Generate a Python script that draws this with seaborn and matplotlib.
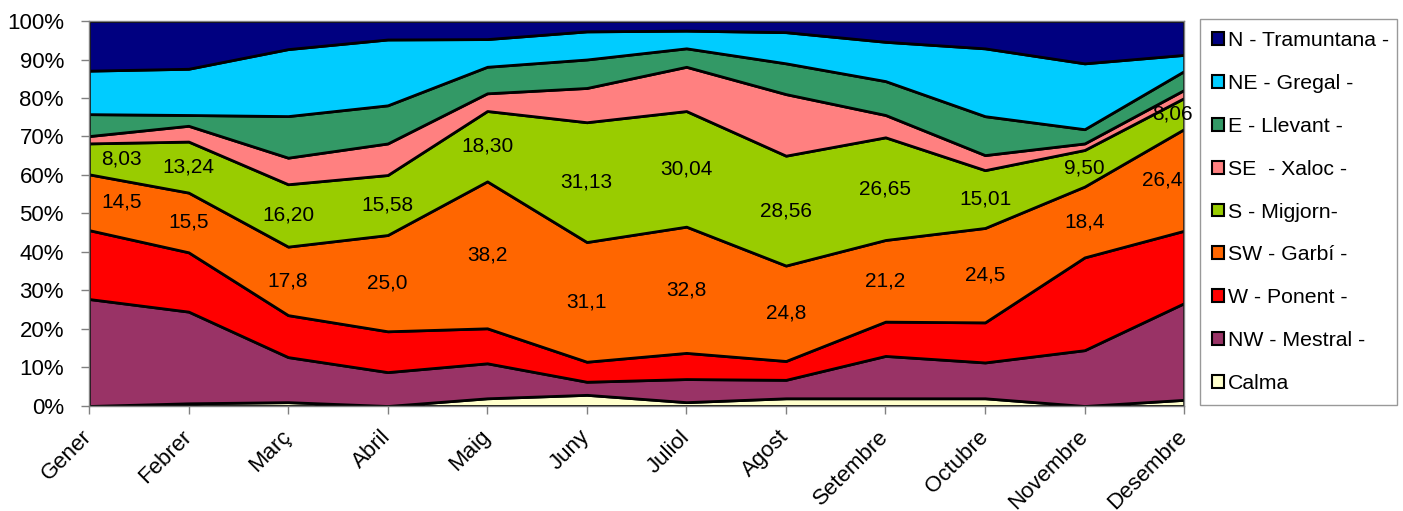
import numpy as np
import pandas as pd
import seaborn as sns
import matplotlib.pyplot as plt

months = ['Gener', 'Febrer', 'Març', 'Abril', 'Maig', 'Juny',
          'Juliol', 'Agost', 'Setembre', 'Octubre', 'Novembre', 'Desembre']

# percentage of days per wind direction
calma = [0.0, 0.7, 1.0, 0.0, 2.0, 2.9, 1.0, 2.0, 2.0, 2.0, 0.0, 1.6]
nw = [27.8, 23.8, 11.7, 8.8, 9.1, 3.4, 6.0, 4.8, 11.0, 9.3, 14.5, 25.1]
w = [17.9, 15.4, 10.9, 10.6, 9.1, 5.2, 6.8, 4.9, 8.9, 10.4, 24.1, 18.8]
sw = [14.5, 15.5, 17.8, 25.0, 38.2, 31.1, 32.8, 24.8, 21.2, 24.5, 18.4, 26.4]
s = [8.03, 13.24, 16.20, 15.58, 18.30, 31.13, 30.04, 28.56, 26.65, 15.01, 9.50, 8.06]
se = [1.9, 4.1, 6.9, 8.2, 4.6, 8.9, 11.5, 16.0, 5.8, 3.9, 1.7, 2.1]
e = [5.7, 2.8, 10.8, 9.9, 6.9, 7.4, 4.8, 8.0, 8.8, 10.1, 3.7, 4.9]
ne = [11.3, 12.0, 17.4, 17.1, 7.2, 7.3, 4.6, 8.1, 10.2, 17.6, 17.1, 4.2]
n = [12.9, 12.4, 7.3, 4.8, 4.7, 2.7, 2.5, 2.9, 5.4, 7.1, 11.0, 8.8]

# labels shown on the S and SW bands
s_labels = ['8,03', '13,24', '16,20', '15,58', '18,30', '31,13',
            '30,04', '28,56', '26,65', '15,01', '9,50', '8,06']
sw_labels = ['14,5', '15,5', '17,8', '25,0', '38,2', '31,1',
             '32,8', '24,8', '21,2', '24,5', '18,4', '26,4']

names = ['Calma', 'NW - Mestral -', 'W - Ponent -', 'SW - Garbí -', 'S - Migjorn-',
         'SE  - Xaloc -', 'E - Llevant -', 'NE - Gregal -', 'N - Tramuntana -']
colors = ['#FFFFCC', '#993366', '#FF0000', '#FF6600', '#99CC00',
          '#FF8080', '#339966', '#00CCFF', '#000080']

sns.set_theme(style="white")
plt.rcParams['font.family'] = ['Liberation Sans', 'DejaVu Sans']
plt.rcParams['text.color'] = 'black'

df = pd.DataFrame({'Calma': calma, 'NW': nw, 'W': w, 'SW': sw, 'S': s,
                   'SE': se, 'E': e, 'NE': ne, 'N': n}, index=months)
pct = df.div(df.sum(axis=1), axis=0) * 100
cum = pct.cumsum(axis=1)

fig = plt.figure(figsize=(14.03, 5.11), dpi=100)
ax = fig.add_axes([0.0634, 0.2055, 0.7806, 0.7534])
x = np.arange(len(months))
ax.stackplot(x, pct.T.values, colors=colors, labels=names,
             edgecolor='black', linewidth=2)

# band labels
for i in x:
    for col, labs in (('SW', sw_labels), ('S', s_labels)):
        top = cum[col].iloc[i]
        bot = top - pct[col].iloc[i]
        xi, ha = i, 'center'
        if i == 0:
            xi, ha = i + 0.12, 'left'
        elif i == len(x) - 1:
            xi = i - (0.22 if col == 'SW' else 0.12)
        ax.text(xi, (top + bot) / 2, labs[i], ha=ha, va='center',
                fontsize=15, color='black')

ax.set_xlim(0, len(months) - 1)
ax.set_ylim(0, 100)
ax.set_yticks(range(0, 101, 10))
ax.set_yticklabels([f'{v}%' for v in range(0, 101, 10)], fontsize=16)
ax.set_xticks(x)
ax.set_xticklabels(months, rotation=45, ha='right', va='center',
                   rotation_mode='anchor', fontsize=16)
ax.tick_params(axis='both', which='both', length=6, width=1, color='#808080',
               labelcolor='black', direction='out', left=True, bottom=True)
ax.tick_params(axis='y', pad=12)
ax.tick_params(axis='x', pad=14)
for sp in ax.spines.values():
    sp.set_color('#808080')
    sp.set_linewidth(1)

h, l = ax.get_legend_handles_labels()
leg = fig.legend(h[::-1], l[::-1], loc='upper left',
                 bbox_to_anchor=(0.8553, 0.2055, 0.1404, 0.7573), mode='expand',
                 fontsize=15.3, frameon=True, fancybox=False, shadow=False,
                 handlelength=0.55, handleheight=0.55, handletextpad=0.2,
                 labelspacing=1.12, borderaxespad=0, borderpad=0.58)
leg.get_frame().set_edgecolor('#808080')
leg.get_frame().set_linewidth(1)
for p in leg.get_patches():
    p.set_edgecolor('black')
    p.set_linewidth(1.5)

fig.savefig('out.png', dpi=100)
